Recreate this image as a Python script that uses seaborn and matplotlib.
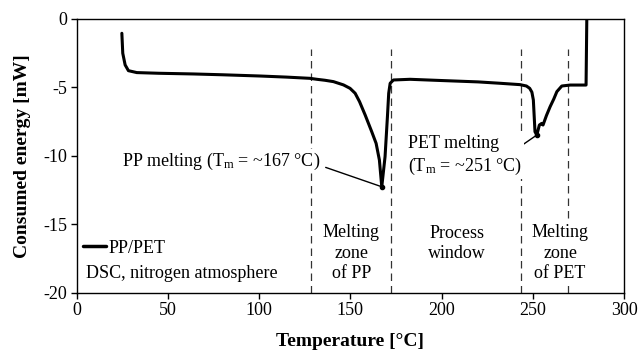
import numpy as np
import pandas as pd
import matplotlib
matplotlib.use("Agg")
import matplotlib.pyplot as plt
import seaborn as sns

# ---- data ----
temperature = [24.7, 25.2, 26.5, 28.3, 32.9, 45.0, 63.9, 80.0, 100.5, 115.0, 127.9,
               131.6, 136.0, 140.7, 146.2, 149.8, 152.6, 155.0, 158.1, 161.7, 164.1,
               165.9, 167.2, 169.0, 170.3, 171.0, 171.8, 173.6, 182.7, 200.0, 220.0,
               232.0, 243.0, 246.5, 248.3, 249.5, 250.3, 251.2, 252.2, 253.6, 254.9,
               255.6, 257.5, 259.5, 261.5, 263.2, 265.9, 270.5, 279.2, 279.6, 280.0]
energy = [-1.05, -2.51, -3.36, -3.78, -3.92, -3.97, -4.02, -4.08, -4.17, -4.25, -4.34,
          -4.41, -4.48, -4.58, -4.82, -5.07, -5.43, -6.04, -7.02, -8.24, -9.09,
          -10.31, -12.26, -10.06, -7.14, -5.43, -4.70, -4.46, -4.41, -4.50, -4.60,
          -4.70, -4.80, -4.90, -5.07, -5.35, -5.92, -8.24, -8.48, -7.75, -7.63,
          -7.75, -7.05, -6.41, -5.85, -5.31, -4.90, -4.83, -4.83, -0.07, 0.5]
zone_bounds = [128.4, 172.5, 243.6, 269.2]
zone_labels = ["Melting\nzone\nof PP", "Process\nwindow", "Melting\nzone\nof PET"]
zone_label_x = [150.5, 208.5, 265.0]
series_name = "PP/PET"
x_ticks = [0, 50, 100, 150, 200, 250, 300]
y_ticks = [0, -5, -10, -15, -20]

df = pd.DataFrame({"Temperature": temperature, "Energy": energy, "Sample": series_name})

sns.set_theme(style="white")
plt.rcParams["font.family"] = ["Liberation Serif", "DejaVu Serif"]
plt.rcParams["mathtext.fontset"] = "custom"
plt.rcParams["mathtext.rm"] = "Liberation Serif"
plt.rcParams["mathtext.it"] = "Liberation Serif:italic"
plt.rcParams["mathtext.bf"] = "Liberation Serif:bold"
plt.rcParams["axes.unicode_minus"] = False
plt.rcParams["text.color"] = "black"
plt.rcParams["axes.labelcolor"] = "black"

fs = 13
fig = plt.figure(figsize=(6.4, 3.57), dpi=100)
ax = fig.add_axes([0.12, 0.18, 0.855, 0.767])

# zone boundaries
ax.vlines(zone_bounds, -20, -2.2, colors="#333333", linestyles=(0, (6, 4)), linewidth=0.9, zorder=1)

sns.lineplot(data=df, x="Temperature", y="Energy", hue="Sample", palette=["black"],
             linewidth=2.2, sort=False, ax=ax, zorder=3)

ax.set_xlim(0, 300)
ax.set_ylim(-20, 0)
ax.set_xticks(x_ticks)
ax.set_yticks(y_ticks)
ax.tick_params(axis="both", which="major", direction="out", length=4, width=1,
               labelsize=fs, colors="black", bottom=True, left=True, pad=3)
for s in ax.spines.values():
    s.set_color("black")
    s.set_linewidth(1.0)
ax.set_xlabel("Temperature [°C]", fontsize=14, fontweight="bold", labelpad=10)
ax.set_ylabel("Consumed energy [mW]", fontsize=14, fontweight="bold", labelpad=9)

# legend
leg = ax.legend(loc="center left", bbox_to_anchor=(0.012, 0.163), frameon=False,
                fontsize=fs, handlelength=1.25, handletextpad=0.15, borderpad=0,
                borderaxespad=0)
for h in leg.get_lines():
    h.set_linewidth(2.5)
ax.text(5.0, -18.6, "DSC, nitrogen atmosphere", fontsize=fs, ha="left", va="center")

# zone labels
bbox = dict(facecolor="white", edgecolor="none", pad=1.0)
for lx, lab in zip(zone_label_x, zone_labels):
    ly = -17.1 if lab.count("\n") == 2 else -16.4
    ax.text(lx, ly, lab, fontsize=fs, ha="center", va="center", multialignment="center",
            linespacing=1.3, bbox=bbox, zorder=2)

# peak annotations
e = np.array(energy)
t = np.array(temperature)
i_pp = int(np.argmin(e))
ax.annotate("PP melting (T$_{\\rm m}$ = ~167 °C)", xy=(t[i_pp], e[i_pp]),
            xytext=(24.8, -10.4), fontsize=fs, ha="left", va="center",
            bbox=bbox, zorder=2,
            arrowprops=dict(arrowstyle="-", color="black", lw=1.0, shrinkA=3, shrinkB=0,
                            relpos=(1.0, 0.3)))
ax.plot([t[i_pp]], [e[i_pp]], "o", color="black", ms=3, zorder=4)
mask = t > 240
i_pet = int(np.where(mask)[0][np.argmin(e[mask])])
ax.annotate("PET melting\n(T$_{\\rm m}$ = ~251 °C)", xy=(t[i_pet], e[i_pet]),
            xytext=(181.5, -10.0), fontsize=fs, ha="left", va="center",
            linespacing=1.3, bbox=bbox, zorder=2,
            arrowprops=dict(arrowstyle="-", color="black", lw=1.0, shrinkA=0, shrinkB=0,
                            relpos=(0.93, 0.62)))
ax.plot([t[i_pet]], [e[i_pet]], "o", color="black", ms=3, zorder=4)

fig.savefig("out.png", dpi=100)
